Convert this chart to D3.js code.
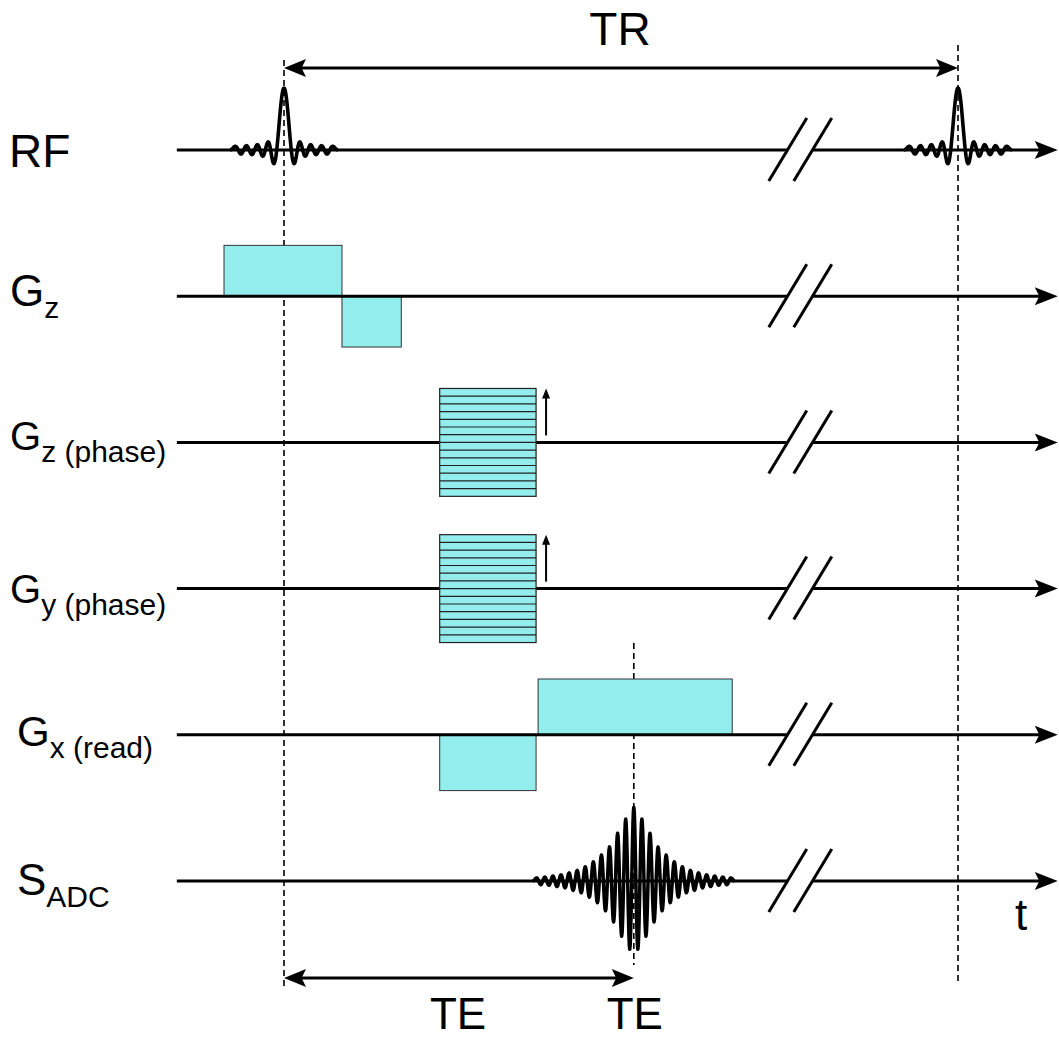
<!DOCTYPE html>
<html>
<head>
<meta charset="utf-8">
<script src="https://cdn.jsdelivr.net/npm/d3@7"></script>
<style>
  body { margin: 0; background: #fff; }
  text { font-family: "Liberation Sans", Arial, sans-serif; fill: #000; }
</style>
</head>
<body>
<div id="chart"></div>
<script>
// Time in arbitrary units, TR = 100
const TR = 100;
const TE = 51.9;
const axisStart = -15.9;
const axisEnd = 114.8;
const breakTime = 76.6;

// Rows of the sequence diagram
const rows = ["RF", "Gz", "GzPhase", "GyPhase", "Gx", "SADC"];
const rowMain = ["RF", "G", "G", "G", "G", "S"];
const rowSub = ["", "z", "z (phase)", "y (phase)", "x (read)", "ADC"];

// RF pulses (sinc): extreme positions (offset from centre) and amplitudes
const rfCenters = [0, 100];
const rfLobeT = [0, 1.5, 2.33, 3.15, 3.95, 4.75, 5.57, 6.38, 7.2, 8.0];
const rfLobeA = [1, -0.22, 0.13, -0.1, 0.085, -0.075, 0.07, -0.065, 0.06, 0];

// gradient lobes: [start, end, amplitude]
const gzLobes = [[-8.9, 8.6, 0.82], [8.6, 17.4, -0.82]];
const gxLobes = [[23.1, 37.4, -0.9], [37.7, 66.5, 0.9]];
const phaseLobe = [23.1, 37.4, 0.87];
const phaseSteps = 14;

// ADC signal echo: extremes every half cycle from the echo centre
const sigStep = 0.6;
const sigEnv = [1.19, 1.1, 1.0, 0.89, 0.77, 0.66, 0.55, 0.48, 0.42, 0.35, 0.31, 0.26,
                0.23, 0.19, 0.17, 0.15, 0.13, 0.11, 0.1, 0.09, 0.08, 0.07, 0.065, 0.06, 0.05, 0];

const width = 1059;
const height = 1039;

const svg = d3.select("#chart")
    .append("svg")
    .attr("width", width)
    .attr("height", height);

const x = d3.scaleLinear().domain([0, TR]).range([284, 958]);
const rowY = d3.scalePoint().domain(rows).range([150, 881]);
const amp = d3.scaleLinear().domain([0, 1]).range([0, -62]);

const cyan = "#93eded";

function arrowHead(g, tipX, tipY, dir, len, half) {
    // dir: 1 = pointing right, -1 = pointing left, "up" = pointing up
    let p;
    if (dir === "up") {
        p = [[tipX, tipY], [tipX - half, tipY + len], [tipX + half, tipY + len]];
    } else {
        p = [[tipX, tipY], [tipX - dir * len, tipY - half], [tipX - dir * len * 0.8, tipY], [tipX - dir * len, tipY + half]];
    }
    g.append("path").attr("d", d3.line()(p) + "Z").attr("fill", "#000");
}

// dashed timing lines
const dashes = [[0, 60, 990], [TR, 45, 985], [TE, 643, 965]];
svg.selectAll("line.dash")
    .data(dashes)
    .enter().append("line")
    .attr("class", "dash")
    .attr("x1", d => x(d[0])).attr("x2", d => x(d[0]))
    .attr("y1", d => d[1]).attr("y2", d => d[2])
    .attr("stroke", "#000")
    .attr("stroke-width", 1.6)
    .attr("stroke-dasharray", "6,4");

// gradient blocks (Gz and Gx) drawn under baselines
function blocks(rowName, lobes) {
    const y0 = rowY(rowName);
    svg.selectAll(null)
        .data(lobes)
        .enter().append("rect")
        .attr("x", d => x(d[0]))
        .attr("width", d => x(d[1]) - x(d[0]))
        .attr("y", d => y0 + Math.min(0, amp(d[2])))
        .attr("height", d => Math.abs(amp(d[2])))
        .attr("fill", cyan)
        .attr("stroke", "#333")
        .attr("stroke-width", 1);
}
blocks("Gz", gzLobes);
blocks("Gx", gxLobes);

// baselines with break marks and arrows
rows.forEach(function (r) {
    const y0 = rowY(r);
    const bx = x(breakTime);
    const g = svg.append("g");
    g.append("line")
        .attr("x1", x(axisStart)).attr("x2", bx - 13)
        .attr("y1", y0).attr("y2", y0)
        .attr("stroke", "#000").attr("stroke-width", 3);
    g.append("line")
        .attr("x1", bx + 12).attr("x2", x(axisEnd) - 15)
        .attr("y1", y0).attr("y2", y0)
        .attr("stroke", "#000").attr("stroke-width", 3);
    [-12.5, 12.5].forEach(function (o) {
        g.append("line")
            .attr("x1", bx + o - 19).attr("y1", y0 + 31)
            .attr("x2", bx + o + 19).attr("y2", y0 - 32)
            .attr("stroke", "#000").attr("stroke-width", 3);
    });
    arrowHead(g, x(axisEnd), y0, 1, 23, 9);
});

// phase encoding tables
["GzPhase", "GyPhase"].forEach(function (r) {
    const y0 = rowY(r);
    const top = y0 + amp(phaseLobe[2]);
    const bot = y0 - amp(phaseLobe[2]);
    const g = svg.append("g");
    g.append("rect")
        .attr("x", x(phaseLobe[0]))
        .attr("width", x(phaseLobe[1]) - x(phaseLobe[0]))
        .attr("y", top)
        .attr("height", bot - top)
        .attr("fill", cyan)
        .attr("stroke", "#222")
        .attr("stroke-width", 1.2);
    const ys = d3.scaleLinear().domain([0, phaseSteps]).range([top, bot]);
    g.selectAll("line")
        .data(d3.range(1, phaseSteps))
        .enter().append("line")
        .attr("x1", x(phaseLobe[0])).attr("x2", x(phaseLobe[1]))
        .attr("y1", d => ys(d)).attr("y2", d => ys(d))
        .attr("stroke", "#222")
        .attr("stroke-width", 1.2);
    // step direction arrow
    const ax = x(phaseLobe[1]) + 10;
    g.append("line")
        .attr("x1", ax).attr("x2", ax)
        .attr("y1", y0 - 7).attr("y2", top + 8)
        .attr("stroke", "#000").attr("stroke-width", 2);
    arrowHead(g, ax, top, "up", 10, 4);
});

// symmetric waveform: half-cosine swing between successive extremes
const wave = d3.line().x(d => d[0]).y(d => d[1]);
function waveform(center, y0, ts, as, sw) {
    // mirror the extremes around the centre
    const ext = [];
    for (let i = ts.length - 1; i > 0; i--) ext.push([-ts[i], as[i]]);
    for (let i = 0; i < ts.length; i++) ext.push([ts[i], as[i]]);
    const pts = [];
    for (let i = 0; i < ext.length - 1; i++) {
        const [t0, a0] = ext[i], [t1, a1] = ext[i + 1];
        const n = Math.max(4, Math.ceil((x(t1) - x(t0)) * 2));
        for (let k = 0; k < n; k++) {
            const s = k / n;
            const a = (a0 + a1) / 2 + (a0 - a1) / 2 * Math.cos(Math.PI * s);
            pts.push([x(center + t0 + (t1 - t0) * s), y0 + amp(a)]);
        }
    }
    const last = ext[ext.length - 1];
    pts.push([x(center + last[0]), y0 + amp(last[1])]);
    svg.append("path")
        .attr("d", wave(pts))
        .attr("fill", "none")
        .attr("stroke", "#000")
        .attr("stroke-width", sw)
        .attr("stroke-linejoin", "round");
}

// RF pulses
rfCenters.forEach(c => waveform(c, rowY("RF"), rfLobeT, rfLobeA, 3.6));

// ADC echo signal
waveform(TE, rowY("SADC"),
    sigEnv.map((a, j) => j * sigStep),
    sigEnv.map((a, j) => (j % 2 === 0 ? 1 : -1) * a), 3.5);

// TR and TE arrows
function dimArrow(t0, t1, y) {
    const g = svg.append("g");
    g.append("line")
        .attr("x1", x(t0) + 12).attr("x2", x(t1) - 12)
        .attr("y1", y).attr("y2", y)
        .attr("stroke", "#000").attr("stroke-width", 3);
    arrowHead(g, x(t0), y, -1, 22, 9);
    arrowHead(g, x(t1), y, 1, 22, 9);
}
dimArrow(0, TR, 68);
dimArrow(0, TE, 978);

svg.append("text").attr("x", 620).attr("y", 45)
    .attr("text-anchor", "middle").attr("font-size", 46).text("TR");
svg.append("text").attr("x", 458).attr("y", 1029)
    .attr("text-anchor", "middle").attr("font-size", 44).text("TE");
svg.append("text").attr("x", x(TE) + 1).attr("y", 1029)
    .attr("text-anchor", "middle").attr("font-size", 44).text("TE");
svg.append("text").attr("x", 1021).attr("y", 930)
    .attr("text-anchor", "middle").attr("font-size", 44).text("t");

// row labels
const labelX = [9, 10, 10, 10, 17, 17];
const labelDy = [17, 10, 8, 14, 11, 14];
const labelSize = [46, 44, 40, 40, 42, 44];
rows.forEach(function (r, i) {
    const t = svg.append("text")
        .attr("x", labelX[i])
        .attr("y", rowY(r) + labelDy[i])
        .attr("font-size", labelSize[i]);
    t.append("tspan").text(rowMain[i]);
    if (rowSub[i]) {
        t.append("tspan")
            .attr("dy", 12)
            .attr("font-size", 30)
            .text(rowSub[i]);
    }
});
</script>
</body>
</html>
